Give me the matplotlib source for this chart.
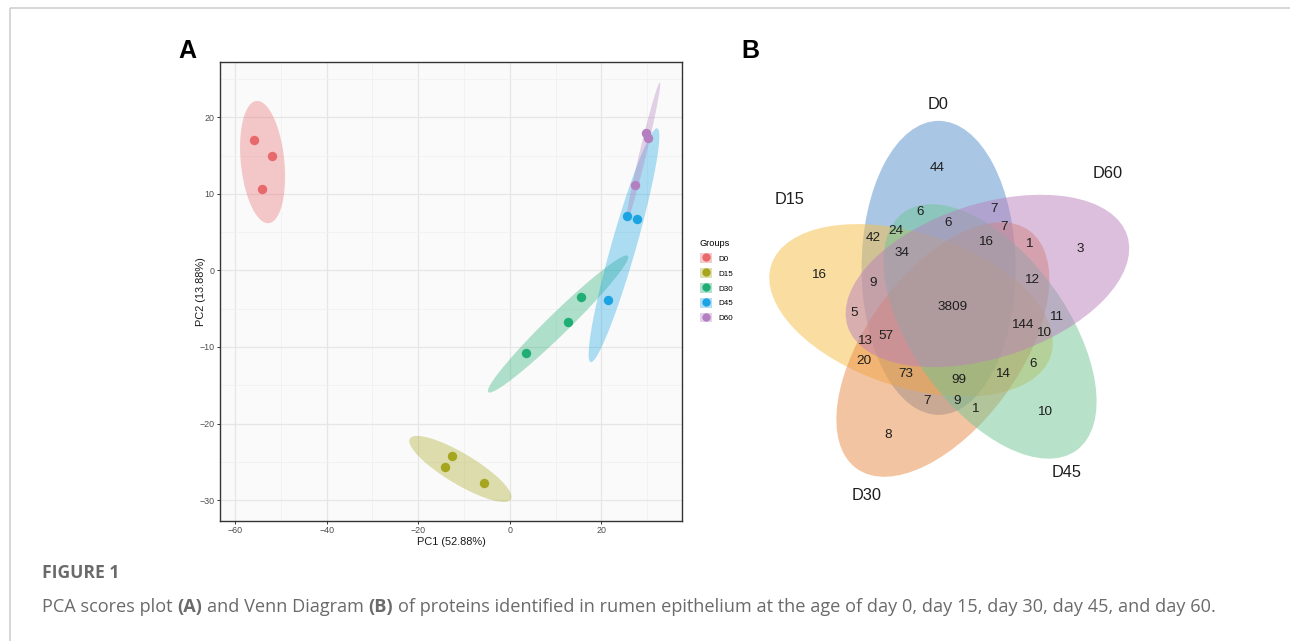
import numpy as np
import matplotlib
matplotlib.use('Agg')
from matplotlib import pyplot as plt
from matplotlib.patches import Ellipse, Patch
from matplotlib.lines import Line2D

# ---- data: PCA scores ----
groups = ['D0', 'D15', 'D30', 'D45', 'D60']
sample_group = ['D0'] * 3 + ['D15'] * 3 + ['D30'] * 3 + ['D45'] * 3 + ['D60'] * 3
pc1 = [-55.9, -51.9, -54.2, -12.7, -14.1, -5.6, 3.5, 12.6, 15.5, 21.5, 25.6, 27.7, 27.4, 29.8, 30.2]
pc2 = [17.0, 14.9, 10.6, -24.3, -25.7, -27.8, -10.8, -6.7, -3.5, -3.9, 7.1, 6.7, 11.2, 17.9, 17.3]
pc1_label = 'PC1 (52.88%)'
pc2_label = 'PC2 (13.88%)'
x_ticks = [-60, -40, -20, 0, 20]
y_ticks = [-30, -20, -10, 0, 10, 20]

# ---- data: Venn diagram region counts ----
venn_sets = ['D0', 'D15', 'D30', 'D45', 'D60']
venn_counts = [44, 6, 7, 6, 7, 24, 42, 16, 1, 3, 34, 16, 12, 9, 3809, 5,
               11, 144, 10, 57, 13, 20, 6, 73, 14, 99, 7, 9, 1, 10, 8]

caption_title = 'FIGURE 1'
caption_parts = [('PCA scores plot', 'normal'), ('(A)', 'bold'), ('and Venn Diagram', 'normal'),
                 ('(B)', 'bold'),
                 ('of proteins identified in rumen epithelium at the age of day 0, day 15, day 30, day 45, and day 60.', 'normal')]

# ---- styles / layout ----
W, H = 1290, 641
pca_colors = {'D0': '#E8696B', 'D15': '#A5A51F', 'D30': '#21AE74', 'D45': '#1CA4E2', 'D60': '#B47FC0'}
venn_colors = {'D0': '#5590CC', 'D15': '#F7BF45', 'D30': '#E98B45', 'D45': '#70C594', 'D60': '#BA80BD'}
# label offsets (px) from the Venn centre, same order as venn_counts
venn_label_pos = [(-16.7, -139.7), (-34, -95.7), (40.3, -99), (-5.7, -84.7), (50, -81.3),
                  (-58.3, -77), (-80.7, -69.7), (32, -65.7), (75, -64), (126, -59),
                  (-52.3, -55.3), (-135.7, -33), (77.7, -28), (-80.7, -24.7), (-1.7, -1.3),
                  (-100, 5.3), (101.7, 8.7), (68.7, 17), (89.3, 24.7), (-68, 27.7),
                  (-89.7, 32.7), (-89.7, 52.7), (78.7, 56), (-48, 66.3), (48.3, 66.3),
                  (5.3, 72), (-27.3, 93), (2.7, 93), (21, 101.3), (91, 104.3), (-65.7, 127)]
venn_name_pos = {'D0': (-15.7, -203.7), 'D15': (-164, -108), 'D30': (-87.3, 187),
                 'D45': (112.7, 164.7), 'D60': (153.3, -134)}
VC = (954, 308)

plt.rcParams['font.family'] = ['Liberation Sans', 'DejaVu Sans']


def px_box(x0, y0, x1, y1):
    return [x0 / W, 1 - y1 / H, (x1 - x0) / W, (y1 - y0) / H]


def conf_ellipse(x, y, level=0.75, npts=120):
    xy = np.column_stack([x, y])
    center = xy.mean(axis=0)
    cov = np.cov(xy.T)
    m = len(x) - 1
    q = (m / 2.0) * ((1 - level) ** (-2.0 / m) - 1)  # F(2, m) quantile
    radius = np.sqrt(2 * q)
    t = np.linspace(0, 2 * np.pi, npts)
    circle = np.column_stack([np.cos(t), np.sin(t)])
    L = np.linalg.cholesky(cov)
    pts = center + radius * circle @ L.T
    return pts[:, 0], pts[:, 1]


fig = plt.figure(figsize=(W / 100, H / 100), dpi=100)

# overlay in pixel coordinates
ov = fig.add_axes([0, 0, 1, 1])
ov.set_xlim(0, W)
ov.set_ylim(H, 0)
ov.axis('off')
ov.plot([9.5, W], [7.5, 7.5], color='#D0D0D0', lw=1.2, solid_capstyle='butt')
ov.plot([9.5, 9.5], [7.5, H], color='#D0D0D0', lw=1.2, solid_capstyle='butt')

# ---------------- panel A ----------------
ax = fig.add_axes(px_box(220, 62.3, 682, 520.7))
ax.set_facecolor('#FAFAFA')
pc1 = np.array(pc1)
pc2 = np.array(pc2)
sg = np.array(sample_group)
for g in groups:
    m = sg == g
    ex, ey = conf_ellipse(pc1[m], pc2[m])
    ax.fill(ex, ey, color=pca_colors[g], alpha=0.35, lw=0, zorder=2)
for g in groups:
    m = sg == g
    ax.scatter(pc1[m], pc2[m], s=46, color=pca_colors[g], lw=0, zorder=3)

ax.set_xlim(-63.3, 37.6)
ax.set_ylim(-32.7, 27.2)
ax.set_xticks(x_ticks)
ax.set_yticks(y_ticks)
ax.set_xticks(list(np.array(x_ticks) + 10), minor=True)
ax.set_yticks(list(np.array(y_ticks) + 5) + [-25], minor=True)
ax.set_axisbelow(True)
ax.grid(which='major', color='#E6E6E6', lw=0.9)
ax.grid(which='minor', color='#F1F1F1', lw=0.6)
ax.tick_params(which='minor', length=0)
ax.tick_params(which='major', length=2.4, width=0.7, color='#333333',
               labelsize=6.4, labelcolor='#4D4D4D', pad=1.6)
for sp in ax.spines.values():
    sp.set_color('#333333')
    sp.set_linewidth(1.0)
ax.set_xlabel(pc1_label, fontsize=7.9, color='#1A1A1A', va='center')
ax.xaxis.set_label_coords(0.5, (520.7 - 541.7) / 458.4)
ax.set_ylabel(pc2_label, fontsize=7.9, color='#1A1A1A', va='center')
ax.yaxis.set_label_coords((201 - 220) / 462.0, 0.5)

handles = [(Patch(facecolor=pca_colors[g], alpha=0.35, edgecolor='none'),
            Line2D([], [], marker='o', ls='', color=pca_colors[g], markersize=6.0, markeredgewidth=0))
           for g in groups]
leg = fig.legend(handles, groups, loc='upper left', bbox_to_anchor=(700, 239),
                 bbox_transform=ov.transData, frameon=False, fontsize=5.8,
                 title='Groups', title_fontsize=6.6, alignment='left', numpoints=1,
                 handlelength=1.45, handleheight=1.45, labelspacing=0.66,
                 handletextpad=0.8, borderpad=0, borderaxespad=0)

ov.text(187, 50.5, 'A', fontsize=18, fontweight='bold', ha='center', va='center')

# ---------------- panel B (Venn) ----------------
d_off, a_ax, b_ax = 43, 147, 77
for i, s in enumerate(venn_sets):
    phi = np.deg2rad(111 + 72 * i)
    rot = 111 + 72 * i - 21
    cx = VC[0] + d_off * np.cos(phi)
    cy = VC[1] - d_off * np.sin(phi)
    ov.add_patch(Ellipse((cx, cy), 2 * a_ax, 2 * b_ax, angle=-rot,
                         facecolor=venn_colors[s], alpha=0.5, lw=0))
for c, (dx, dy) in zip(venn_counts, venn_label_pos):
    ov.text(VC[0] + dx, VC[1] + dy, str(c), fontsize=9.7, color='#1E1E1E',
            ha='center', va='center')
for s in venn_sets:
    dx, dy = venn_name_pos[s]
    ov.text(VC[0] + dx, VC[1] + dy, s, fontsize=11.8, color='#1E1E1E',
            ha='center', va='center')
ov.text(750, 51, 'B', fontsize=18, fontweight='bold', ha='center', va='center')

# ---------------- caption ----------------
cap_font = 'Open Sans'
cap_color = '#6A6A6A'
ov.text(42, 573, caption_title, fontsize=12.6, fontweight='bold', color='#6A6A6A',
        family=cap_font, ha='left', va='center')


def draw_caption(fs):
    x = 42
    arts = []
    fig.canvas.draw()
    r = fig.canvas.get_renderer()
    sp = ov.text(0, -100, 'a a', fontsize=fs, family=cap_font)
    sp2 = ov.text(0, -100, 'aa', fontsize=fs, family=cap_font)
    space = sp.get_window_extent(r).width - sp2.get_window_extent(r).width
    sp.remove()
    sp2.remove()
    for s, w in caption_parts:
        t = ov.text(x, 607, s, fontsize=fs, fontweight=w, color=cap_color,
                    family=cap_font, ha='left', va='center')
        arts.append(t)
        x += t.get_window_extent(r).width + space
    return arts, x - space - 42


arts, width = draw_caption(10.0)
for t in arts:
    t.remove()
fs = 10.0 * 1177 / width
arts, width = draw_caption(fs)

fig.savefig('out.png', dpi=100)
